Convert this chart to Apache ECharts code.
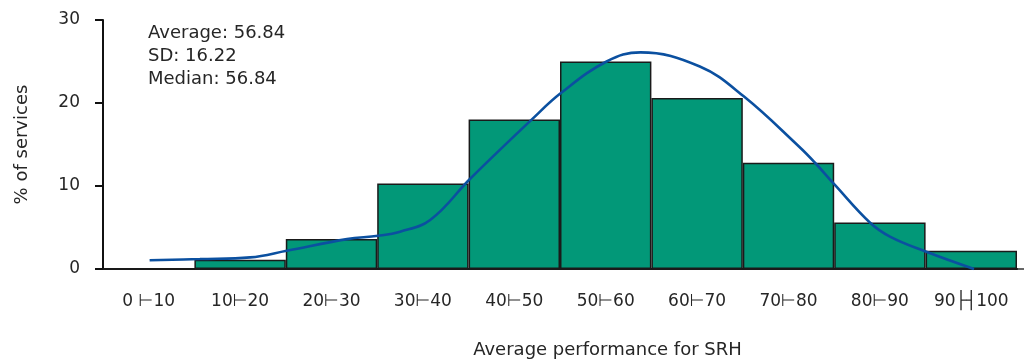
<!DOCTYPE html>
<html>
<head>
<meta charset="utf-8">
<script src="https://cdn.jsdelivr.net/npm/echarts@6/dist/echarts.min.js"></script>
<style>html,body{margin:0;padding:0;background:#fff}#c{width:1030px;height:362px}</style>
</head>
<body>
<div id="c"></div>
<script>
const categories = ['0 ⊢10','10⊢20','20⊢30','30⊢40','40⊢50','50⊢60','60⊢70','70⊢80','80⊢90','90├┤100'];
const barValues = [0, 1.1, 3.6, 10.3, 18.0, 25.0, 20.6, 12.8, 5.6, 2.2];
const curveX = [5.1, 10.6, 16.1, 20.1, 26.7, 30.1, 32.5, 35.8, 40.2, 46.9, 50.1, 55.1, 58.8, 65.3, 70.1, 76.2, 77.9, 80.1, 83.9, 86.1, 90.0, 95.3];
const curveY = [1.05, 1.2, 1.4, 2.2, 3.6, 4.0, 4.5, 5.9, 10.9, 18.0, 21.2, 25.0, 26.1, 24.4, 20.8, 14.7, 12.8, 10.1, 5.6, 3.9, 2.1, 0];
const yTicks = [0, 10, 20, 30];
const statLines = ['Average: 56.84', 'SD: 16.22', 'Median: 56.84'];
const xTitle = 'Average performance for SRH';
const yTitle = '% of services';

const FONT = 'DejaVu Sans';
const TXT = '#262626';
const chart = echarts.init(document.getElementById('c'), null, {renderer: 'canvas'});
chart.setOption({
  animation: false,
  grid: {left: 103, right: 13, top: 20, bottom: 93, containLabel: false},
  xAxis: [{
    type: 'category', data: categories, boundaryGap: true,
    axisLine: {lineStyle: {color: '#1a1a1a', width: 2}},
    axisTick: {show: false},
    axisLabel: {color: TXT, fontFamily: FONT, fontSize: 17, margin: 24, interval: 0}
  }, {
    type: 'value', min: 0, max: 100, show: false
  }],
  yAxis: {
    type: 'value', min: yTicks[0], max: yTicks[yTicks.length - 1], interval: 10,
    name: yTitle, nameLocation: 'middle', nameGap: 72, nameRotate: 90,
    nameTextStyle: {color: TXT, fontFamily: FONT, fontSize: 18},
    axisLine: {show: true, lineStyle: {color: '#111', width: 2}},
    axisTick: {show: true, inside: false, length: 8, lineStyle: {color: '#111', width: 2}},
    axisLabel: {color: TXT, fontFamily: FONT, fontSize: 17, margin: 23},
    splitLine: {show: false}
  },
  series: [{
    type: 'bar', data: barValues, barCategoryGap: 0, xAxisIndex: 0,
    itemStyle: {color: '#029878', borderColor: '#1a1a1a', borderWidth: 1.5}
  }, {
    type: 'line', xAxisIndex: 1, data: curveX.map((x, i) => [x, curveY[i]]),
    smooth: 0.4, showSymbol: false,
    lineStyle: {color: '#0b50a0', width: 2.6}
  }],
  graphic: [
    ...statLines.map((t, i) => ({
      type: 'text', x: 148, y: 24 + i * 23.3,
      style: {text: t, fill: TXT, font: '18px "' + FONT + '"'}
    })),
    {type: 'text', x: 607.5, y: 341, style: {text: xTitle, fill: TXT, font: '18px "' + FONT + '"', align: 'center', textAlign: 'center'}},
    {type: 'line', shape: {x1: 1017, y1: 269, x2: 1024, y2: 269}, style: {stroke: '#666', lineWidth: 2}}
  ]
});
</script>
</body>
</html>
